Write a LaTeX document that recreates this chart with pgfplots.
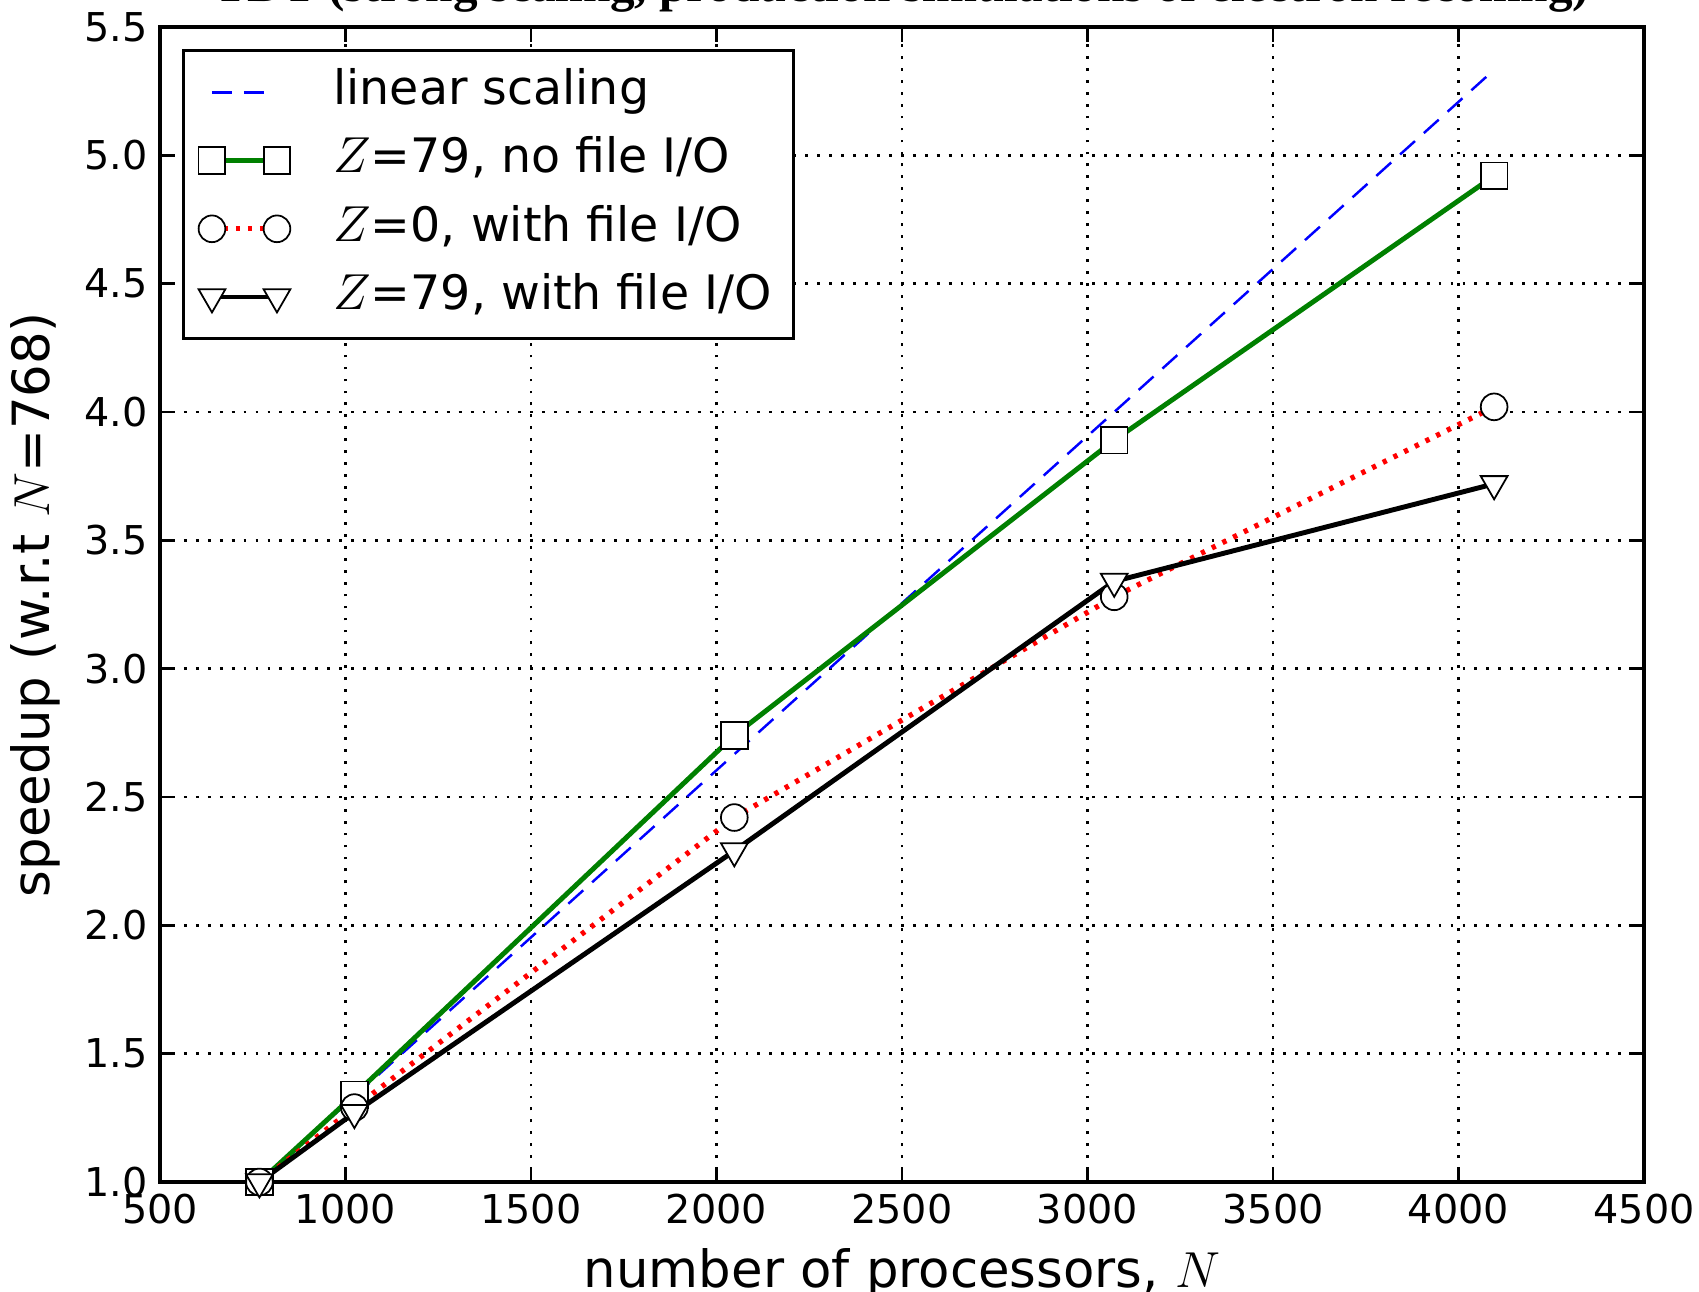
\documentclass[border=0pt]{standalone}
\usepackage{pgfplots}
\pgfplotsset{compat=1.18}
\usepackage{fontspec}
\setmainfont{DejaVu Sans}
\newfontfamily\titlefont{Liberation Serif}

\definecolor{mplgreen}{rgb}{0,0.5,0}
\definecolor{mplred}{rgb}{1,0,0}
\definecolor{mplblue}{rgb}{0,0,1}

\pgfplotsset{
  twoend legend/.style={
    legend image code/.code={
      \draw[##1,mark repeat=1,mark phase=1] plot coordinates {(0cm,0cm) (0.65cm,0cm)};
    }
  }
}

\begin{document}
\begin{tikzpicture}
\begin{axis}[
  name=ax,
  scale only axis,
  width=14.84cm, height=11.55cm,
  xmin=500, xmax=4500, ymin=1, ymax=5.5,
  xtick={500,1000,...,4500},
  ytick={1,1.5,...,5.5},
  clip=false,
  axis line style={black, line width=0.9pt},
  tick align=inside,
  major tick length=0.15cm,
  tick style={black, line width=0.7pt},
  grid=major,
  grid style={black, line width=0.7pt, dash pattern=on 0.8pt off 2.6pt},
  /pgf/number format/assume math mode=true,
  ticklabel style={font=\fontsize{11.3}{13}\selectfont},
  xticklabel style={/pgf/number format/set thousands separator={}},
  yticklabel style={/pgf/number format/.cd, fixed, fixed zerofill, precision=1},
  xlabel={number of processors, $N$},
  ylabel={speedup (w.r.t $N$=768)},
  label style={font=\fontsize{14.6}{16}\selectfont},
  legend cell align=left,
  legend style={
    at={(0,1)}, anchor=north west, xshift=0.22cm, yshift=-0.22cm,
    draw=black, line width=0.9pt,
    font=\fontsize{13.5}{15}\selectfont,
    inner xsep=0.15cm, inner ysep=0.12cm,
    row sep=2.4pt,
    nodes={text height=10pt, text depth=3pt, inner sep=2pt},
    /tikz/every odd column/.append style={column sep=0.36cm},
  },
]
\addplot[mplblue, line width=0.7pt, dash pattern=on 5.7pt off 3.4pt] coordinates {
  (768,1.0) (1024,1.3333) (2048,2.6667) (3072,4.0) (4096,5.3333)};
\addlegendentry{linear scaling}

\addplot[mplgreen, line width=1.4pt, mark=square*, mark size=3.8pt,
  mark options={solid, fill=white, draw=black, line width=0.5pt}, twoend legend] coordinates {
  (768,1.0) (1024,1.34) (2048,2.74) (3072,3.89) (4096,4.92)};
\addlegendentry{$Z$=79, no file I/O}

\addplot[mplred, line width=1.5pt, dash pattern=on 1.2pt off 2.2pt, mark=*, mark size=3.8pt,
  mark options={solid, fill=white, draw=black, line width=0.5pt}, twoend legend] coordinates {
  (768,1.0) (1024,1.29) (2048,2.42) (3072,3.28) (4096,4.02)};
\addlegendentry{$Z$=0, with file I/O}

\addplot[black, line width=1.4pt, mark=triangle*, mark size=4.4pt,
  mark options={solid, fill=white, draw=black, line width=0.5pt, rotate=180}, twoend legend] coordinates {
  (768,1.0) (1024,1.27) (2048,2.29) (3072,3.34) (4096,3.72)};
\addlegendentry{$Z$=79, with file I/O}
\end{axis}
\node[anchor=base, font=\titlefont\bfseries\fontsize{14}{16}\selectfont]
  at ([yshift=0.25cm]ax.north) {TDT (strong scaling, production simulations of electron recoiling)};
\pgfresetboundingbox
\useasboundingbox ([xshift=-1.60cm, yshift=-1.09cm]ax.south west) rectangle ([xshift=0.55cm, yshift=0.27cm]ax.north east);
\end{tikzpicture}
\end{document}
